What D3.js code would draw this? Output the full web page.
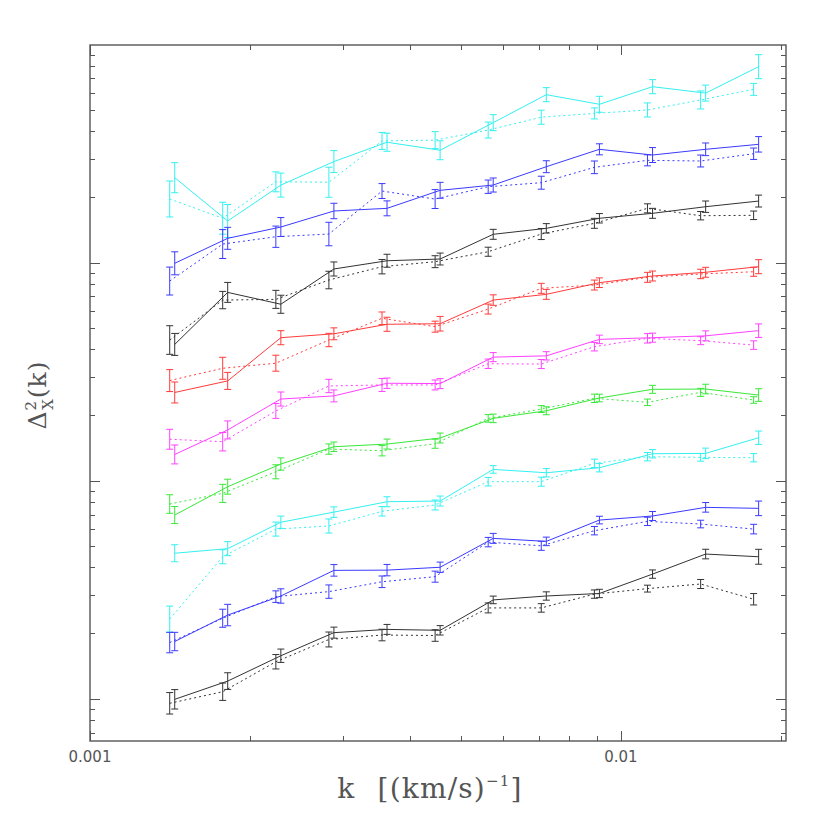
<!DOCTYPE html>
<html>
<head>
<meta charset="utf-8">
<script src="https://cdn.jsdelivr.net/npm/d3@7"></script>
<style>
  body { margin: 0; background: #fff; }
</style>
</head>
<body>
<script>
// k bins: the dotted set and the slightly shifted solid set
var kDot = [0.001413, 0.001778, 0.002239, 0.002818, 0.003548, 0.004467, 0.005623, 0.007079, 0.008913, 0.01122, 0.01413, 0.01778];
var kSol = [0.001444, 0.001817, 0.002288, 0.00288, 0.003626, 0.004565, 0.005747, 0.007235, 0.009109, 0.01147, 0.01444, 0.01817];

// bins from top to bottom; Err = fractional error
var bin1Sol = [245.5, 155.4, 227, 291, 357, 328, 439, 590, 533, 642, 600, 793];
var bin1SolErr = [.172, .19, .135, .123, .10, .105, .088, .077, .088, .077, .088, .135];
var bin1Dot = [196, 160, 235, 234, 362, 365, 406, 465, 484, 502, 558, 624];
var bin1DotErr = [.209, .184, .111, .172, .094, .094, .088, .077, .06, .077, .10, .065];

var bin2Sol = [99.4, 129.4, 145.8, 172.7, 177.6, 214.8, 227.2, 275.7, 331.3, 311.9, 331.3, 349.2];
var bin2SolErr = [.129, .123, .105, .085, .082, .088, .077, .065, .06, .082, .069, .085];
var bin2Dot = [82.4, 121.8, 131.6, 135.4, 213.2, 195.9, 223.2, 232.8, 273.9, 294.9, 292.8, 316.2];
var bin2DotErr = [.159, .165, .119, .132, .082, .105, .073, .071, .069, .06, .065, .062];

var bin3Sol = [42.2, 73.1, 64.5, 93.6, 102.1, 104.0, 135.0, 143.8, 159.9, 168.5, 180.7, 191.8];
var bin3SolErr = [.123, .111, .10, .077, .071, .065, .054, .051, .051, .054, .062, .065];
var bin3Dot = [44.2, 67.4, 67.9, 83.3, 95.9, 101.1, 112.3, 135.4, 151.6, 177.6, 164.3, 165.0];
var bin3DotErr = [.163, .096, .10, .097, .079, .065, .049, .06, .054, .049, .045, .046];

var bin4Sol = [25.4, 28.7, 45.3, 47.2, 52.2, 52.5, 67.4, 71.6, 81.0, 86.9, 90.4, 95.9];
var bin4SolErr = [.117, .094, .077, .065, .077, .08, .057, .054, .052, .054, .054, .077];
var bin4Dot = [28.8, 32.8, 34.6, 44.2, 55.6, 50.9, 61.3, 76.3, 79.0, 85.7, 88.8, 90.9];
var bin4DotErr = [.123, .123, .088, .073, .069, .06, .054, .054, .054, .054, .051, .049];

var bin5Sol = [13.2, 17.1, 23.7, 24.5, 28.0, 27.9, 36.9, 37.4, 44.5, 45.3, 46.2, 48.8];
var bin5SolErr = [.105, .10, .077, .065, .056, .054, .049, .045, .046, .049, .054, .074];
var bin5Dot = [15.5, 15.1, 20.9, 27.2, 27.5, 27.5, 34.4, 34.3, 41.2, 45.0, 43.9, 41.9];
var bin5DotErr = [.111, .102, .082, .073, .071, .054, .051, .049, .046, .051, .043, .046];

var bin6Sol = [6.96, 9.39, 11.93, 14.32, 14.73, 15.70, 19.32, 20.94, 23.96, 26.26, 26.34, 24.72];
var bin6SolErr = [.094, .082, .067, .051, .054, .054, .046, .043, .041, .043, .052, .069];
var bin6Dot = [7.82, 8.75, 10.99, 13.97, 13.73, 14.78, 19.32, 21.32, 23.88, 22.89, 25.44, 23.46];
var bin6DotErr = [.103, .10, .077, .056, .056, .049, .041, .037, .045, .035, .043, .035];

var bin7Sol = [4.65, 4.88, 6.45, 7.18, 8.01, 8.07, 11.27, 10.88, 11.47, 13.30, 13.35, 15.75];
var bin7SolErr = [.094, .077, .067, .057, .054, .054, .041, .045, .045, .045, .057, .073];
var bin7Dot = [2.32, 4.48, 6.00, 6.20, 7.24, 7.74, 9.90, 9.90, 12.02, 12.89, 12.80, 12.75];
var bin7DotErr = [.147, .077, .077, .077, .051, .054, .046, .049, .045, .045, .041, .045];

var bin8Sol = [1.83, 2.42, 2.96, 3.88, 3.89, 4.01, 5.44, 5.27, 6.60, 6.89, 7.55, 7.47];
var bin8SolErr = [.102, .12, .079, .063, .062, .056, .054, .046, .041, .049, .052, .08];
var bin8Dot = [1.81, 2.34, 2.94, 3.10, 3.44, 3.63, 5.23, 5.03, 5.90, 6.51, 6.33, 6.00];
var bin8DotErr = [.114, .10, .063, .073, .063, .06, .051, .049, .045, .045, .041, .052];

var bin9Sol = [0.994, 1.205, 1.575, 2.01, 2.08, 2.06, 2.84, 2.96, 3.04, 3.73, 4.61, 4.48];
var bin9SolErr = [.108, .092, .073, .06, .054, .051, .041, .045, .045, .045, .052, .082];
var bin9Dot = [0.953, 1.077, 1.478, 1.87, 1.96, 1.95, 2.61, 2.61, 3.02, 3.20, 3.36, 2.86];
var bin9DotErr = [.12, .096, .079, .082, .063, .063, .054, .046, .045, .037, .049, .062];

var xTickLabels = ["0.001", "0.01"];

/* ============================ STYLE ============================ */
var binColors = ["#33f0f0", "#3a3aff", "#333333", "#ff3b3b", "#ff40ff", "#38e838", "#33f0f0", "#3a3aff", "#333333"];
var axisColor = "#555";

var width = 830, height = 830;
var pLeft = 90, pRight = 786, pTop = 45, pBottom = 741;

var x = d3.scaleLog().domain([0.001, 0.02046]).range([pLeft, pRight]);
var y = d3.scaleLog().domain([0.64, 997]).range([pBottom, pTop]);

var svg = d3.select("body").append("svg")
    .attr("width", width)
    .attr("height", height);

/* ============================ AXES ============================ */
function isMajor(v) {
  var l = Math.log10(v);
  return Math.abs(l - Math.round(l)) < 1e-6;
}

var tk = svg.append("g").attr("stroke", axisColor).attr("stroke-width", 1);

x.ticks().forEach(function(t) {
  var len = isMajor(t) ? 10 : 5;
  var px = Math.round(x(t)) + 0.5;
  tk.append("line").attr("x1", px).attr("x2", px).attr("y1", pBottom).attr("y2", pBottom - len);
  tk.append("line").attr("x1", px).attr("x2", px).attr("y1", pTop).attr("y2", pTop + len);
});
y.ticks().forEach(function(t) {
  var len = isMajor(t) ? 10 : 5;
  var py = Math.round(y(t)) + 0.5;
  tk.append("line").attr("y1", py).attr("y2", py).attr("x1", pLeft).attr("x2", pLeft + len);
  tk.append("line").attr("y1", py).attr("y2", py).attr("x1", pRight).attr("x2", pRight - len);
});

svg.append("rect")
    .attr("x", pLeft).attr("y", pTop)
    .attr("width", pRight - pLeft).attr("height", pBottom - pTop)
    .attr("fill", "none")
    .attr("stroke", axisColor)
    .attr("stroke-width", 1.4);

svg.selectAll(".xlab")
    .data([0.001, 0.01])
  .enter().append("text")
    .attr("class", "xlab")
    .attr("x", function(d) { return x(d); })
    .attr("y", 762)
    .attr("text-anchor", "middle")
    .attr("font-family", "DejaVu Sans, sans-serif")
    .attr("font-size", 15)
    .attr("fill", "#555")
    .text(function(d, i) { return xTickLabels[i]; });

// x title
var xt = svg.append("text")
    .attr("x", 430).attr("y", 798)
    .attr("text-anchor", "middle")
    .attr("font-family", "DejaVu Serif, serif")
    .attr("font-size", 28)
    .attr("letter-spacing", 1.2)
    .attr("fill", "#555");
xt.append("tspan").text("k\u2002\u2009[(km/s)");
xt.append("tspan").attr("font-size", 15).attr("dy", -12).text("\u22121");
xt.append("tspan").attr("dy", 12).text("]");

// y title
var yt = svg.append("text")
    .attr("transform", "translate(46,395) rotate(-90)")
    .attr("text-anchor", "middle")
    .attr("font-family", "DejaVu Serif, serif")
    .attr("font-size", 25)
    .attr("letter-spacing", 1)
    .attr("fill", "#555");
yt.append("tspan").text("\u0394");
yt.append("tspan").attr("font-size", 15).attr("dy", -10).text("2");
yt.append("tspan").attr("font-size", 15).attr("dx", -10).attr("dy", 17).text("X");
yt.append("tspan").attr("dy", -7).text("(k)");

/* ============================ SERIES ============================ */
var bins = [
  [bin1Sol, bin1SolErr, bin1Dot, bin1DotErr],
  [bin2Sol, bin2SolErr, bin2Dot, bin2DotErr],
  [bin3Sol, bin3SolErr, bin3Dot, bin3DotErr],
  [bin4Sol, bin4SolErr, bin4Dot, bin4DotErr],
  [bin5Sol, bin5SolErr, bin5Dot, bin5DotErr],
  [bin6Sol, bin6SolErr, bin6Dot, bin6DotErr],
  [bin7Sol, bin7SolErr, bin7Dot, bin7DotErr],
  [bin8Sol, bin8SolErr, bin8Dot, bin8DotErr],
  [bin9Sol, bin9SolErr, bin9Dot, bin9DotErr]
];

var series = [];
bins.forEach(function(b, i) {
  series.push({ k: kDot, v: b[2], e: b[3], color: binColors[i], dashed: true });
  series.push({ k: kSol, v: b[0], e: b[1], color: binColors[i], dashed: false });
});

var line = d3.line()
    .x(function(d) { return x(d.k); })
    .y(function(d) { return y(d.v); });

var plot = svg.append("g");

series.forEach(function(s) {
  var pts = s.v.map(function(v, i) { return { k: s.k[i], v: v, e: s.e[i] }; });
  var g = plot.append("g")
      .attr("stroke", s.color)
      .attr("fill", "none")
      .attr("stroke-width", 1);

  g.append("path")
      .attr("d", line(pts))
      .attr("stroke-dasharray", s.dashed ? "2,3" : null);

  var eb = g.selectAll(".eb")
      .data(pts)
    .enter().append("g")
      .attr("class", "eb");

  eb.append("line")
      .attr("x1", function(d) { return x(d.k); })
      .attr("x2", function(d) { return x(d.k); })
      .attr("y1", function(d) { return y(d.v / (1 + d.e)); })
      .attr("y2", function(d) { return y(d.v * (1 + d.e)); });
  eb.append("line")
      .attr("x1", function(d) { return x(d.k) - 3.5; })
      .attr("x2", function(d) { return x(d.k) + 3.5; })
      .attr("y1", function(d) { return y(d.v / (1 + d.e)); })
      .attr("y2", function(d) { return y(d.v / (1 + d.e)); });
  eb.append("line")
      .attr("x1", function(d) { return x(d.k) - 3.5; })
      .attr("x2", function(d) { return x(d.k) + 3.5; })
      .attr("y1", function(d) { return y(d.v * (1 + d.e)); })
      .attr("y2", function(d) { return y(d.v * (1 + d.e)); });
});
</script>
</body>
</html>
